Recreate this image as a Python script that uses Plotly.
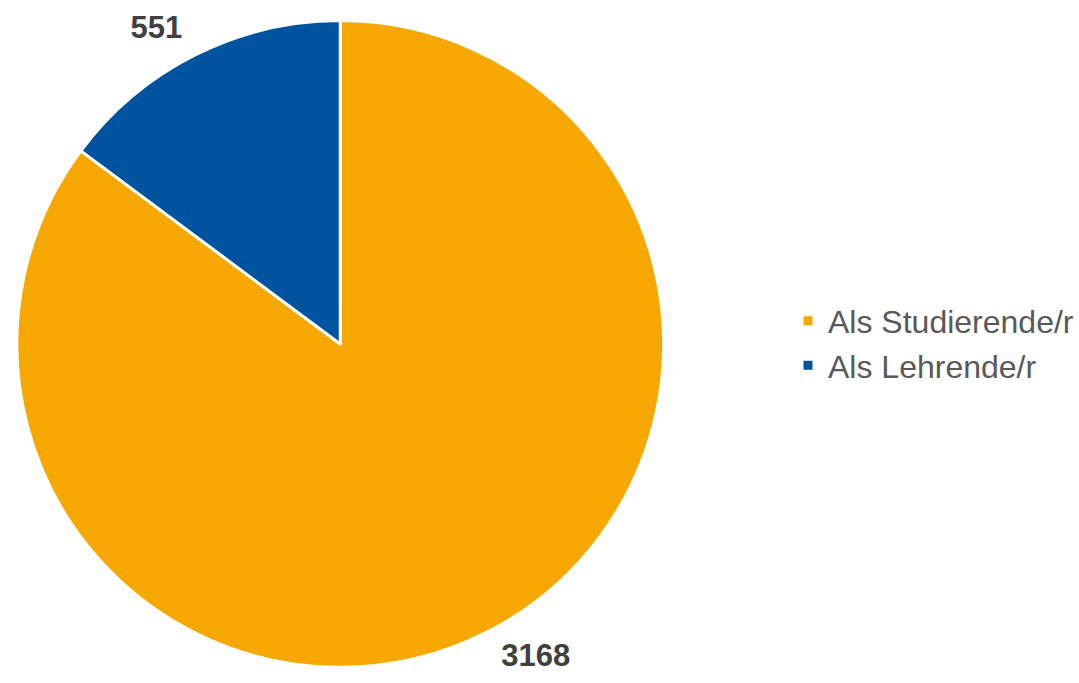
import plotly.graph_objects as go

labels = ["Als Studierende/r", "Als Lehrende/r"]
values = [3168, 551]
colors = ["#F6A800", "#00549F"]

FONT = "Liberation Sans, Arial, sans-serif"

fig = go.Figure()

# main pie (slices only)
fig.add_trace(go.Pie(
    labels=labels,
    values=values,
    sort=False,
    direction="clockwise",
    rotation=0,
    marker=dict(colors=colors, line=dict(color="white", width=3)),
    textinfo="none",
    domain=dict(x=[11 / 1079, 665 / 1079], y=[1 - 672.5 / 683, 1 - 18.5 / 683]),
    hoverinfo="label+value",
))

# transparent companion pie carrying the outside value labels slightly farther out
fig.add_trace(go.Pie(
    labels=labels,
    values=values,
    sort=False,
    direction="clockwise",
    rotation=0,
    marker=dict(colors=["rgba(0,0,0,0)"] * len(values), line=dict(width=0)),
    texttemplate="<b>%{value}</b>",
    textposition="outside",
    textfont=dict(family=FONT, size=31, color="#404040"),
    domain=dict(x=[0, 679 / 1079], y=[0, 680 / 683]),
    showlegend=False,
    hoverinfo="skip",
))

fig.update_layout(
    width=1079, height=683,
    margin=dict(l=0, r=0, t=0, b=0),
    paper_bgcolor="white",
    plot_bgcolor="white",
    showlegend=True,
    legend=dict(
        x=0.733, y=0.495, xanchor="left", yanchor="middle",
        font=dict(family=FONT, size=32, color="#595959"),
        traceorder="normal",
        itemwidth=30,
    ),
)

fig.write_html("out.html", config={"displayModeBar": False},
               post_script="document.body.style.margin='0';")
